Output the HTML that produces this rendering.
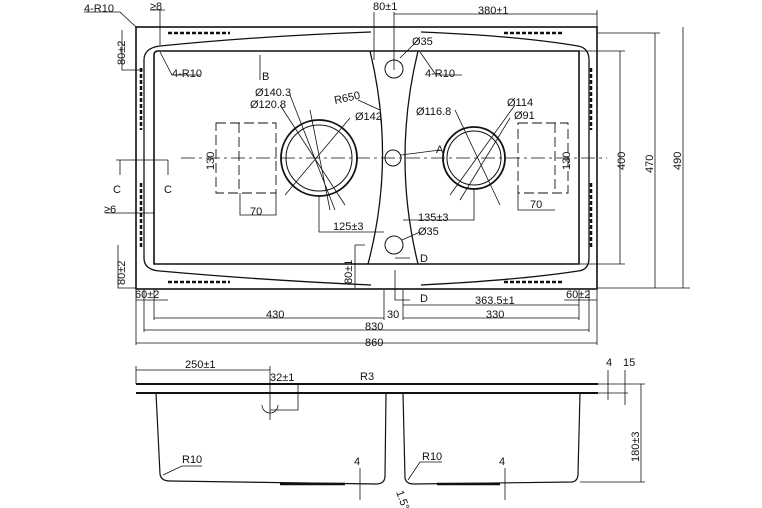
<!DOCTYPE html>
<html><head><style>
body{margin:0;background:#fff}
svg{display:block}
text{font-family:"Liberation Sans",sans-serif;font-size:11px;fill:#111}
</style></head><body>
<svg width="762" height="508" viewBox="0 0 762 508" xmlns="http://www.w3.org/2000/svg">
<g stroke="#111" fill="none" stroke-width="1">
<!-- outer rect -->
<rect x="136" y="27" width="461" height="262" stroke-width="1.6"/>
<!-- basin outline -->
<path d="M160,46 Q260,36 371,32 M421,32 Q520,36 578,46 Q589,48 589,60 L589,258 Q589,270 578,271 Q520,280 421,285 M371,285 Q260,280 160,271 Q144,270 144,258 L144,60 Q144,48 160,46" stroke-width="1.3"/>
<!-- bowl rect -->
<path d="M158,51 L579,51 L579,264 L154,264 L154,55 Q154,51 158,51" stroke-width="1.6"/>
<!-- center curves -->
<path d="M370,51 Q396,158 368,264 M418,51 Q392,158 418,264" stroke-width="1.3"/>
<!-- circles -->
<circle cx="319" cy="158" r="38" stroke-width="1.8"/>
<circle cx="319" cy="158" r="33"/>
<circle cx="474" cy="158" r="31" stroke-width="1.8"/>
<circle cx="474" cy="158" r="27"/>
<circle cx="394" cy="69" r="9"/>
<circle cx="394" cy="245" r="9"/>
<circle cx="393" cy="158" r="8"/>
<!-- center line -->
<path d="M181,158 H607" stroke-dasharray="14,4,3,4" stroke-width="0.8"/>
<!-- dashed rects -->
<g stroke-dasharray="10,4" stroke-width="0.9">
<rect x="216" y="123" width="60" height="70"/>
<path d="M239,123 V193"/>
<rect x="518" y="123" width="50" height="70"/>
<path d="M555,123 V193"/>
</g>
<!-- slots -->
<g stroke-width="2.5" stroke-dasharray="4,2">
<path d="M168,33 H230 M504,33 H564 M168,282 H230 M504,282 H564"/>
<path d="M141,68 V130 M141,183 V247 M591,68 V130 M591,183 V247"/>
</g>
<!-- leader lines through circles -->
<g stroke-width="0.8">
<path d="M290,95 L335,210 M280,105 L345,205 M350,118 L285,195 M310,110 L330,210"/>
<path d="M455,110 L500,205 M515,105 L450,195 M510,118 L460,200"/>
<path d="M380,110 L358,100 M400,58 L418,40 M402,240 L420,232 M401,155 L440,150"/>
<path d="M160,52 L172,75 L200,75 M420,52 L436,75 L462,75"/>
</g>
<!-- dimension lines -->
<g stroke-width="0.8">
<path d="M374,12 V60 M394,12 V70 M394,14 H597 M597,10 V27"/>
<path d="M597,33 H660 M579,51 H625 M597,288 H690 M580,264 H625 M620,51 V264 M655,33 V288 M683,27 V288"/>
<path d="M122,30 V70 H143 M118,245 V288 H136"/>
<path d="M120,160 V175 M168,160 V175 M116,160 H168"/>
<path d="M105,213 H155 M160,10 V45 M150,10 H165"/>
<path d="M260,55 V80 M355,245 V288 M355,245 H365"/>
<path d="M319,195 V232 H384 M403,220 H474 V190"/>
<path d="M395,270 V300 H410 M395,258 H410"/>
<path d="M136,290 V345 M597,290 V345 M144,290 V332 M589,290 V332 M154,290 V320 M579,290 V320 M384,290 V320 M403,290 V320"/>
<path d="M136,343 H597 M144,330 H589 M154,318 H384 M403,318 H579 M403,305 H579 M136,300 H168 M564,300 H597"/>
<path d="M240,193 V215 H276 V193 M518,193 V210 H555"/>
<path d="M84,12 H120 L136,27"/>
</g>
<!-- bottom view -->
<path d="M136,384 H598 M136,393 H598" stroke-width="2"/>
<path d="M156,393 L160,474 Q161,481 170,481 L376,484 Q385,484 385,476 L386,393" stroke-width="1.2"/>
<path d="M403,393 L405,478 Q406,484 414,484 L572,482 Q578,481 578,474 L580,393" stroke-width="1.2"/>
<path d="M280,484 H345 M437,484 H500" stroke-width="2.5"/>
<g stroke-width="0.8">
<path d="M136,370 H270 M136,366 V384 M270,366 V420 M270,410 H298 V385 M262,405 A8,8 0 0 0 278,405"/>
<path d="M641,384 V482 M598,384 H645 M580,482 H645"/>
<path d="M608,370 V400 M625,370 V405 M598,393 H628"/>
<path d="M360,468 V500 M505,468 V500"/>
<path d="M163,475 L182,466 H202 M408,480 L420,462 H442"/>
</g>
</g>
<!-- labels -->
<text x="84" y="12">4-R10</text>
<text x="150" y="10">≥8</text>
<text x="373" y="10">80±1</text>
<text x="478" y="14">380±1</text>
<text x="412" y="45">Ø35</text>
<text x="172" y="77">4-R10</text>
<text x="425" y="77">4-R10</text>
<text x="262" y="80">B</text>
<text x="255" y="96">Ø140.3</text>
<text x="250" y="108">Ø120.8</text>
<text x="335" y="104" transform="rotate(-12 335 104)">R650</text>
<text x="355" y="120">Ø142</text>
<text x="416" y="115">Ø116.8</text>
<text x="507" y="106">Ø114</text>
<text x="514" y="119">Ø91</text>
<text x="436" y="153">A</text>
<text x="113" y="193">C</text>
<text x="164" y="193">C</text>
<text x="104" y="213">≥6</text>
<text x="250" y="215">70</text>
<text x="530" y="208">70</text>
<text x="333" y="230">125±3</text>
<text x="418" y="221">135±3</text>
<text x="418" y="235">Ø35</text>
<text x="420" y="262">D</text>
<text x="420" y="302">D</text>
<text x="135" y="298">60±2</text>
<text x="566" y="298">60±2</text>
<text x="475" y="304">363.5±1</text>
<text x="266" y="318">430</text>
<text x="387" y="318">30</text>
<text x="486" y="318">330</text>
<text x="365" y="330">830</text>
<text x="365" y="346">860</text>
<text transform="translate(125,65) rotate(-90)">80±2</text>
<text transform="translate(125,285) rotate(-90)">80±2</text>
<text transform="translate(352,284) rotate(-90)">80±1</text>
<text transform="translate(214,170) rotate(-90)">130</text>
<text transform="translate(570,170) rotate(-90)">130</text>
<text transform="translate(625,170) rotate(-90)">400</text>
<text transform="translate(653,173) rotate(-90)">470</text>
<text transform="translate(681,170) rotate(-90)">490</text>
<text x="185" y="368">250±1</text>
<text x="270" y="381">32±1</text>
<text x="360" y="380">R3</text>
<text x="606" y="366">4</text>
<text x="623" y="366">15</text>
<text x="182" y="463">R10</text>
<text x="422" y="460">R10</text>
<text x="354" y="465">4</text>
<text x="499" y="465">4</text>
<text transform="translate(639,462) rotate(-90)">180±3</text>
<text transform="translate(396,492) rotate(70)">1.5°</text>
</svg>
</body></html>
